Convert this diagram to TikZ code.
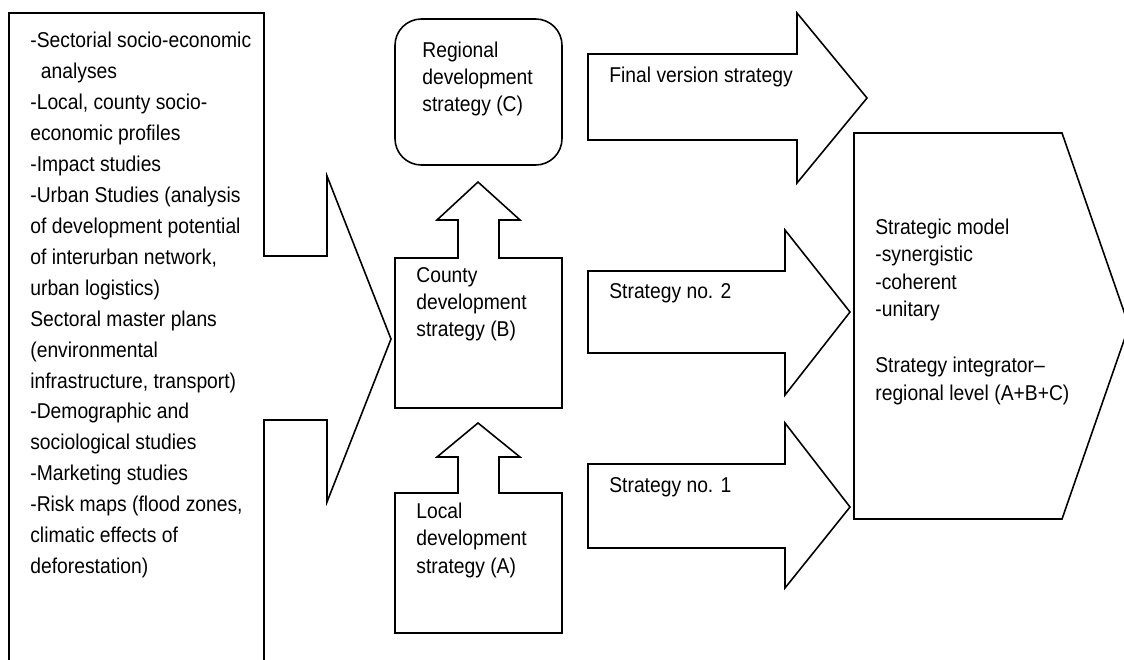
\documentclass[tikz,border=0pt]{standalone}
\usepackage{fontspec}
\setmainfont{Liberation Sans}[FakeStretch=0.9]
\begin{document}
\begin{tikzpicture}[x=0.02cm, y=-0.02cm,
  outline/.style={draw, line width=0.9pt, line join=miter},
  txt/.style={anchor=north west, inner sep=0pt, align=left, font=\fontsize{12.2}{15.4}\selectfont},
  srctxt/.style={txt, font=\fontsize{12.2}{17.6}\selectfont}]

  % Fix the frame of the picture
  \useasboundingbox (0,0) rectangle (1124,659);
  \clip (0,0) rectangle (1124,659);

  % Sources box with its callout pointing right (open at the bottom)
  \draw[outline] (264,680) -- (264,420) -- (327,420) -- (327,502) -- (391,339)
    -- (327,176) -- (327,256) -- (264,256) -- (264,13) -- (9,13) -- (9,680);

  % Regional strategy (C)
  \draw[outline, rounded corners=15pt] (395,19) rectangle (562,165);

  % County strategy (B) with its up arrow
  \draw[outline] (395,258) -- (458,258) -- (458,220) -- (437,220) -- (478,182)
    -- (520,220) -- (499,220) -- (499,258) -- (562,258) -- (562,408) -- (395,408) -- cycle;

  % Local strategy (A) with its up arrow
  \draw[outline] (395,493) -- (458,493) -- (458,457) -- (437,457) -- (478,423)
    -- (520,457) -- (499,457) -- (499,493) -- (562,493) -- (562,633) -- (395,633) -- cycle;

  % Three block arrows to the right
  \draw[outline] (588,54) -- (797,54) -- (797,13) -- (867,98) -- (797,183)
    -- (797,140) -- (588,140) -- cycle;
  \draw[outline] (588,271) -- (785,271) -- (785,230) -- (850,312) -- (785,395)
    -- (785,353) -- (588,353) -- cycle;
  \draw[outline] (588,464) -- (785,464) -- (785,423) -- (850,507) -- (785,588)
    -- (785,548) -- (588,548) -- cycle;

  % Strategic model (pentagon, tip cut by the frame)
  \draw[outline] (854,133) -- (1062,133) -- (1129,326) -- (1062,519) -- (854,519) -- cycle;

  % Texts
  \node[srctxt] (sources) at (30,32) {-Sectorial socio-economic\\
    \hspace*{6pt}analyses\\
    -Local, county socio-\\
    economic profiles\\
    -Impact studies\\
    -Urban Studies (analysis\\
    of development potential\\
    of interurban network,\\
    urban logistics)\\
    Sectoral master plans\\
    (environmental\\
    infrastructure, transport)\\
    -Demographic and\\
    sociological studies\\
    -Marketing studies\\
    -Risk maps (flood zones,\\
    climatic effects of\\
    deforestation)};

  \node[txt] (regional) at (422,42) {Regional\\ development\\ strategy (C)};
  \node[txt] (county) at (416,267) {County\\ development\\ strategy (B)};
  \node[txt] (local) at (416,503) {Local\\ development\\ strategy (A)};

  \node[txt] (final) at (609,67) {Final version strategy};
  \node[txt] (strat2) at (609,283) {Strategy no. 2};
  \node[txt] (strat1) at (609,477) {Strategy no. 1};

  \node[txt] (model) at (875,219) {Strategic model\\ -synergistic\\ -coherent\\ -unitary\\[17pt]
    Strategy integrator--\\ regional level (A+B+C)};

\end{tikzpicture}
\end{document}
